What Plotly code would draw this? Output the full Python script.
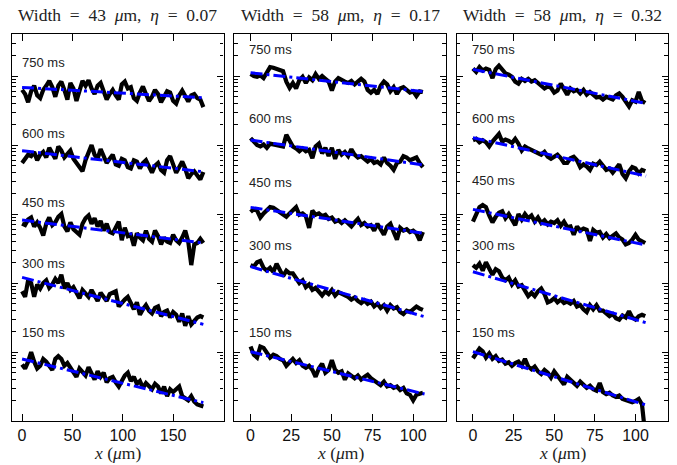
import plotly.graph_objects as go

# ---------------- data ----------------
labels = ["750 ms", "600 ms", "450 ms", "300 ms", "150 ms"]
decade = [4, 3, 2, 1, 0]          # vertical offset (decades) of each profile
titles = ["Width&nbsp; = &nbsp;43&nbsp; <i>μ</i>m,&nbsp; <i>η</i>&nbsp; = &nbsp;0.07",
          "Width&nbsp; = &nbsp;58&nbsp; <i>μ</i>m,&nbsp; <i>η</i>&nbsp; = &nbsp;0.17",
          "Width&nbsp; = &nbsp;58&nbsp; <i>μ</i>m,&nbsp; <i>η</i>&nbsp; = &nbsp;0.32"]
xticks_1 = [0, 50, 100, 150]
xticks_23 = [0, 25, 50, 75, 100]

x_p1 = list(range(0, 181, 3))
x_p2 = list(range(0, 107, 2))
x_p3 = list(range(0, 107, 2))

# log10 intensity within each profile's decade
p1_750 = [0.80,0.74,0.62,0.78,0.86,0.72,0.68,0.80,0.86,0.93,0.84,0.70,0.86,0.92,0.80,0.66,0.90,0.82,0.64,0.78,
          0.93,0.86,0.94,0.82,0.74,0.86,0.90,0.78,0.66,0.74,0.80,0.72,0.66,0.88,0.92,0.82,0.84,0.68,0.64,0.76,
          0.85,0.74,0.64,0.70,0.80,0.74,0.62,0.70,0.78,0.76,0.64,0.60,0.72,0.79,0.70,0.63,0.72,0.74,0.68,0.66,0.55]
p1_600 = [0.74,0.80,0.86,0.84,0.90,0.78,0.86,0.90,0.82,0.96,0.88,0.80,0.98,0.92,0.82,0.88,0.92,0.80,0.74,0.66,
          0.62,0.78,0.88,1.00,0.86,0.80,0.94,0.84,0.74,0.80,0.86,0.72,0.70,0.80,0.78,0.68,0.66,0.78,0.76,0.66,
          0.74,0.78,0.68,0.60,0.70,0.74,0.64,0.60,0.78,0.84,0.72,0.60,0.68,0.76,0.66,0.52,0.58,0.62,0.56,0.50,0.61]
p1_450 = [0.86,0.84,0.92,0.95,0.82,0.88,0.80,0.69,0.86,0.95,0.84,0.88,0.96,1.00,0.82,0.75,0.88,0.78,0.74,0.70,
          0.86,0.94,0.98,0.86,0.94,0.82,0.90,0.76,0.86,0.74,0.72,0.80,0.89,0.62,0.80,0.68,0.70,0.54,0.72,0.66,
          0.62,0.76,0.64,0.60,0.76,0.68,0.56,0.66,0.60,0.58,0.70,0.62,0.58,0.66,0.76,0.60,0.26,0.56,0.58,0.64,0.58]
p1_300 = [0.88,0.80,1.04,1.00,0.80,0.98,0.92,1.00,1.04,0.93,0.98,1.06,1.00,1.12,0.92,1.00,0.90,0.94,0.86,0.78,
          0.90,0.86,0.80,0.90,0.82,0.74,0.86,0.80,0.74,0.84,0.86,0.88,0.66,0.72,0.76,0.80,0.70,0.62,0.72,0.54,
          0.62,0.68,0.60,0.56,0.64,0.66,0.52,0.58,0.60,0.50,0.58,0.54,0.44,0.56,0.38,0.52,0.40,0.46,0.50,0.52,0.50]
p1_150 = [0.82,0.76,0.86,1.00,0.86,0.76,0.80,0.90,0.86,0.80,0.74,0.90,0.94,0.90,0.80,0.84,0.78,0.72,0.64,0.76,
          0.70,0.66,0.78,0.70,0.60,0.72,0.64,0.70,0.56,0.62,0.64,0.56,0.50,0.58,0.66,0.70,0.58,0.64,0.54,0.58,
          0.48,0.55,0.50,0.46,0.54,0.50,0.40,0.50,0.36,0.46,0.42,0.46,0.50,0.36,0.33,0.30,0.36,0.28,0.24,0.22,0.21]

p2_750 = [1.03,1.00,0.99,1.01,0.97,1.06,1.13,1.12,1.10,1.08,1.07,0.92,0.83,0.90,0.82,0.94,0.99,0.90,0.98,0.94,
          1.03,0.96,1.00,0.96,0.92,0.79,0.92,0.97,0.94,0.92,0.90,0.93,0.88,0.92,0.96,0.92,0.80,0.76,0.80,0.74,
          0.86,0.92,0.88,0.78,0.84,0.74,0.82,0.84,0.80,0.76,0.78,0.71,0.78,0.77]
p2_600 = [1.10,1.05,1.00,0.98,1.01,0.96,1.02,1.01,1.00,0.99,0.98,1.15,1.06,0.98,0.95,0.91,0.95,0.91,0.93,0.81,
          0.98,1.02,0.88,0.96,0.84,0.96,0.80,0.93,0.86,0.90,0.84,0.94,0.86,0.82,0.84,0.80,0.76,0.80,0.74,0.76,
          0.72,0.82,0.74,0.70,0.64,0.74,0.76,0.84,0.82,0.78,0.80,0.82,0.74,0.68]
p2_450 = [1.03,1.07,1.05,0.95,1.01,1.06,1.10,1.09,1.06,1.02,0.99,0.96,1.01,1.06,1.10,0.99,1.01,0.97,0.80,1.05,
          0.99,1.01,0.97,0.99,0.93,0.95,0.89,0.91,0.87,0.91,0.87,0.82,0.88,0.93,0.84,0.87,0.82,0.84,0.76,0.86,
          0.78,0.70,0.82,0.86,0.74,0.63,0.80,0.76,0.78,0.74,0.76,0.72,0.62,0.74]
p2_300 = [1.26,1.24,1.30,1.32,1.22,1.18,1.22,1.16,1.28,1.20,1.10,1.18,1.14,1.14,1.08,1.00,1.04,0.94,0.98,0.90,
          0.93,0.87,0.82,0.88,0.84,0.90,0.82,0.87,0.85,0.83,0.80,0.76,0.79,0.74,0.71,0.75,0.70,0.73,0.66,0.70,
          0.64,0.68,0.60,0.68,0.63,0.65,0.58,0.55,0.60,0.58,0.62,0.66,0.63,0.61]
p2_150 = [1.08,0.96,0.92,1.08,1.06,0.98,0.92,0.96,0.94,0.90,0.88,0.80,0.86,0.90,0.84,0.88,0.80,0.77,0.80,0.74,
          0.64,0.76,0.83,0.70,0.74,0.88,0.74,0.70,0.72,0.60,0.69,0.65,0.62,0.66,0.60,0.64,0.67,0.62,0.59,0.55,
          0.52,0.57,0.50,0.52,0.48,0.50,0.45,0.48,0.40,0.38,0.30,0.38,0.40,0.41]

p3_750 = [1.11,1.06,1.13,1.08,1.11,1.09,0.97,1.10,1.15,1.10,1.04,1.02,0.99,0.92,0.89,0.96,0.93,0.96,0.92,0.94,
          0.89,0.86,0.82,0.85,0.83,0.76,0.79,0.89,0.81,0.73,0.82,0.78,0.80,0.75,0.80,0.73,0.77,0.73,0.69,0.70,
          0.66,0.70,0.68,0.66,0.72,0.75,0.70,0.64,0.56,0.65,0.63,0.77,0.64,0.61]
p3_600 = [1.07,1.09,1.04,1.07,1.04,0.98,1.05,1.10,1.16,1.05,1.08,1.06,1.03,1.09,1.02,0.92,0.98,0.95,0.93,0.90,
          0.88,0.86,0.90,0.83,0.80,0.83,0.86,0.81,0.74,0.74,0.81,0.83,0.78,0.68,0.72,0.69,0.64,0.73,0.71,0.76,
          0.69,0.64,0.66,0.60,0.66,0.72,0.58,0.52,0.62,0.68,0.66,0.59,0.64,0.62]
p3_450 = [0.89,0.98,1.10,1.13,1.10,0.98,0.88,0.96,1.02,1.04,0.94,1.00,0.92,0.84,1.00,0.92,1.00,0.94,0.98,0.89,
          0.95,0.87,0.91,0.85,0.89,0.87,0.91,0.83,0.89,0.81,0.82,0.70,0.82,0.76,0.79,0.77,0.61,0.77,0.73,0.74,
          0.66,0.71,0.65,0.69,0.72,0.66,0.63,0.56,0.58,0.63,0.70,0.63,0.61,0.58]
p3_300 = [1.26,1.22,1.28,1.18,1.30,1.22,1.12,1.20,1.17,1.08,1.04,1.08,0.98,1.04,0.95,0.97,0.90,0.81,0.86,0.81,
          0.88,0.92,0.84,0.72,0.74,0.78,0.72,0.76,0.71,0.73,0.70,0.74,0.66,0.68,0.62,0.58,0.68,0.62,0.68,0.60,
          0.60,0.56,0.52,0.55,0.49,0.47,0.53,0.50,0.59,0.50,0.47,0.52,0.54,0.52]
p3_150 = [0.91,0.98,1.05,1.01,0.92,0.98,0.90,0.94,0.87,0.89,0.83,0.85,0.80,0.84,0.86,0.80,0.90,0.79,0.75,0.79,
          0.72,0.68,0.74,0.70,0.63,0.72,0.65,0.58,0.53,0.64,0.60,0.56,0.51,0.57,0.53,0.48,0.51,0.46,0.44,0.55,
          0.42,0.39,0.41,0.37,0.35,0.37,0.32,0.30,0.28,0.27,0.29,0.32,0.24,-0.20]

# exponential fits (log10 values at start and end of each profile)
fit_x_end = [180, 107, 106.5]
fit_p1 = [(0.836, 0.686), (0.918, 0.613), (0.913, 0.580), (1.082, 0.401), (0.899, 0.266)]
fit_p2 = [(1.048, 0.772), (1.072, 0.710), (1.097, 0.720), (1.237, 0.512), (1.005, 0.391)]
fit_p3 = [(1.097, 0.604), (1.106, 0.551), (1.068, 0.550), (1.164, 0.425), (1.005, 0.232)]

panels = [
    (x_p1, [p1_750, p1_600, p1_450, p1_300, p1_150], fit_p1),
    (x_p2, [p2_750, p2_600, p2_450, p2_300, p2_150], fit_p2),
    (x_p3, [p3_750, p3_600, p3_450, p3_300, p3_150], fit_p3),
]

# label heights (log10 units within the decade)
label_v = [
    [1.19, 1.17, 1.17, 1.29, 1.29],
    [1.39, 1.39, 1.46, 1.55, 1.29],
    [1.39, 1.39, 1.48, 1.54, 1.29],
]

# ---------------- figure ----------------
fig = go.Figure()
W, H = 677, 465
xdom = [[12 / W, 223.5 / W], [234.3 / W, 445.7 / W], [456.7 / W, 668 / W]]
ydom = [1 - 421 / H, 1 - 34 / H]
xranges = [[-10, 200], [-10, 120], [-10, 120]]

for i, (xs, profiles, fits) in enumerate(panels):
    xa = "x" if i == 0 else f"x{i+1}"
    ya = "y" if i == 0 else f"y{i+1}"
    for k, prof in enumerate(profiles):
        off = decade[k]
        fig.add_trace(go.Scatter(
            x=xs[:len(prof)], y=[10 ** (off + v) for v in prof],
            mode="lines", line=dict(color="black", width=4.2),
            xaxis=xa, yaxis=ya, showlegend=False, hoverinfo="skip"))
    for k, (a, b) in enumerate(fits):
        off = decade[k]
        fig.add_trace(go.Scatter(
            x=[0, fit_x_end[i]], y=[10 ** (off + a), 10 ** (off + b)],
            mode="lines", line=dict(color="#0000ff", width=3, dash="12px,4px,3px,4px"),
            xaxis=xa, yaxis=ya, showlegend=False, hoverinfo="skip"))
    for k, lab in enumerate(labels):
        fig.add_annotation(x=-2, y=decade[k] + label_v[i][k], xref=xa, yref=ya,
                           text=lab, showarrow=False, xanchor="left", yanchor="middle",
                           font=dict(family="Liberation Sans, Arial", size=13, color="#222"))
    # panel title
    fig.add_annotation(x=(xdom[i][0] + xdom[i][1]) / 2, y=1 - 15 / H, xref="paper", yref="paper",
                       text=titles[i], showarrow=False, xanchor="center", yanchor="middle",
                       font=dict(family="Liberation Serif, DejaVu Serif", size=17.5, color="#222"))
    fig.add_annotation(x=(xdom[i][0] + xdom[i][1]) / 2, y=0, xref="paper", yref="paper",
                       text="<i>x</i> (<i>μ</i>m)", showarrow=False, xanchor="center", yanchor="bottom",
                       font=dict(family="Liberation Serif, DejaVu Serif", size=17.5, color="#222"))

minor_vals = [m * 10 ** d for d in range(0, 6) for m in range(2, 10)]

axis_common = dict(showline=True, linecolor="black", linewidth=1.3, mirror="allticks",
                   ticks="inside", tickcolor="black", showgrid=False, zeroline=False)

for i in range(3):
    sx = "" if i == 0 else str(i + 1)
    fig.update_layout(**{
        f"xaxis{sx}": dict(domain=xdom[i], range=xranges[i], anchor=f"y{sx}",
                           tickmode="array", tickvals=xticks_1 if i == 0 else xticks_23,
                           ticklen=7, tickwidth=1,
                           tickfont=dict(family="Liberation Sans, Arial", size=16, color="#111"),
                           **axis_common),
        f"yaxis{sx}": dict(domain=ydom, type="log", range=[0, 5.61], anchor=f"x{sx}",
                           tickmode="array", tickvals=[10, 100, 1000, 1e4, 1e5],
                           showticklabels=False, ticklen=6, tickwidth=1,
                           minor=dict(ticks="inside", ticklen=3.5, tickcolor="black",
                                      tickmode="array", tickvals=minor_vals, showgrid=False),
                           **axis_common),
    })

fig.update_layout(width=W, height=H, margin=dict(l=0, r=0, t=0, b=0),
                  paper_bgcolor="white", plot_bgcolor="white")

fig.write_html("out.html")
